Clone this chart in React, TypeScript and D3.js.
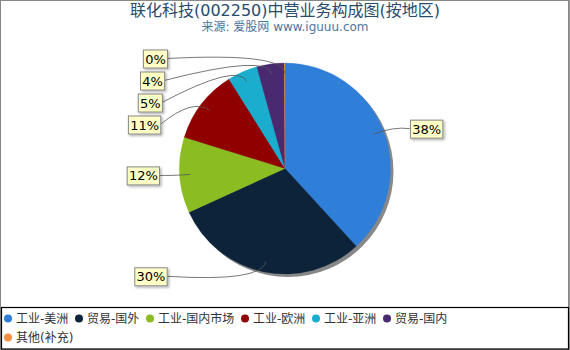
import React from "react";
import * as d3 from "d3";

const W = 570;
const H = 350;

const titleText = "联化科技(002250)中营业务构成图(按地区)";
const subtitleText = "来源: 爱股网 www.iguuu.com";

const categories = [
  "工业-美洲",
  "贸易-国外",
  "工业-国内市场",
  "工业-欧洲",
  "工业-亚洲",
  "贸易-国内",
  "其他(补充)",
];
const values = [38.2, 30.0, 11.6, 11.3, 4.6, 4.2, 0.1];
const colors = ["#2f7ed8", "#0d233a", "#8bbc21", "#910000", "#1aadce", "#492970", "#f28f43"];

const CJK = '"DejaVu Sans", "Noto Sans CJK SC", sans-serif';

type Item = { name: string; value: number; color: string };
const data: Item[] = categories.map((c, i) => ({ name: c, value: values[i], color: colors[i] }));

function textWidth(t: string, size: number) {
  let w = 0;
  for (const ch of t) {
    const code = ch.charCodeAt(0);
    if (code > 0x2e80) w += size;
    else if (ch === "-") w += size * 0.5;
    else if (ch === "(" || ch === ")") w += size * 0.39;
    else if (ch === "%") w += size * 0.95;
    else if (/[0-9]/.test(ch)) w += size * 0.636;
    else w += size * 0.6;
  }
  return w;
}

export default function App() {
  const cx = 285;
  const cy = 168.5;
  const r = 105.5;
  const total = d3.sum(values);
  const pie = d3.pie<Item>().value((d) => d.value).sort(null).startAngle(0).endAngle(2 * Math.PI);
  const arcs = pie(data);
  const arcGen = d3.arc<d3.PieArcDatum<Item>>().innerRadius(0).outerRadius(r);

  const labelR = 110;
  const spacing = 22;
  const boxH = 18;
  type L = { a: d3.PieArcDatum<Item>; mid: number; side: number; ny: number; y: number; text: string };
  const labels: L[] = arcs.map((a) => {
    const mid = (a.startAngle + a.endAngle) / 2;
    const side = Math.sin(mid) >= 0 ? 1 : -1;
    const ny = -Math.cos(mid) * labelR;
    return { a, mid, side, ny, y: ny, text: Math.round((a.data.value / total) * 100) + "%" };
  });
  for (const s of [1, -1]) {
    const group = labels.filter((l) => l.side === s).sort((p, q) => p.ny - q.ny);
    let prev = -Infinity;
    for (const l of group) {
      l.y = Math.max(l.ny, prev + spacing);
      prev = l.y;
    }
  }
  const dxOf = (dy: number) => 126 - 8 * Math.pow(dy / 110, 2);

  // legend layout
  const legendFont = 12;
  const perRow = 6;
  const legendItems = data.map((d, i) => {
    const row = Math.floor(i / perRow);
    return { d, row, w: textWidth(d.name, legendFont) };
  });
  let lx = 8;
  let lastRow = 0;
  const legendPos = legendItems.map((it) => {
    if (it.row !== lastRow) {
      lx = 8;
      lastRow = it.row;
    }
    const p = { ...it, x: lx, y: 318.5 + it.row * 19 };
    lx += it.w + 17;
    return p;
  });

  return (
    <svg width={W} height={H} style={{ position: "absolute", left: 0, top: 0, background: "#fff" }}>
      <defs>
        <filter id="lblshadow" x="-20%" y="-20%" width="150%" height="160%">
          <feDropShadow dx="1.5" dy="1.5" stdDeviation="0.8" floodColor="#000" floodOpacity="0.3" />
        </filter>
      </defs>
      <rect x={0} y={0} width={W} height={H} fill="#fff" />
      <rect x={0.5} y={0.5} width={568} height={349} fill="none" stroke="#888" />
      <line x1={569.5} y1={0} x2={569.5} y2={H} stroke="#999" />

      <text x={W / 2} y={16} textAnchor="middle" fontFamily={CJK} fontSize={16} fill="#274b6d">
        {titleText}
      </text>
      <text x={W / 2} y={31} textAnchor="middle" fontFamily={CJK} fontSize={12} fill="#4d759e">
        {subtitleText}
      </text>

      <circle cx={cx + 3} cy={cy + 3} r={r} fill="#888" />
      <g transform={`translate(${cx},${cy})`}>
        {arcs.map((a, i) => (
          <path key={i} d={arcGen(a) || ""} fill={a.data.color} stroke={a.data.color} strokeWidth={0.3} />
        ))}
      </g>

      {labels.map((l, i) => {
        const sx = Math.sin(l.mid);
        const sy = -Math.cos(l.mid);
        const ax = cx + sx * r * 0.9;
        const ay = cy + sy * r * 0.9;
        const kx = cx + sx * r * 1.1;
        const ky = cy + sy * r * 1.1;
        const bw = textWidth(l.text, 13) + 3.5;
        const edgeX = cx + l.side * dxOf(l.y);
        const by = cy + l.y;
        const bx = l.side > 0 ? edgeX : edgeX - bw;
        return (
          <g key={"l" + i}>
            <path d={`M${ax},${ay}Q${kx},${ky} ${edgeX},${by}`} fill="none" stroke="#555" strokeWidth={0.8} />
            <rect x={bx + 0.5} y={by - boxH / 2 + 0.5} width={bw} height={boxH} fill="#ffffc6" stroke="#888" strokeWidth={1} filter="url(#lblshadow)" />
            <text x={bx + bw / 2 + 0.5} y={by + 5} textAnchor="middle" fontFamily={CJK} fontSize={13} fill="#000">
              {l.text}
            </text>
          </g>
        );
      })}

      <rect x={1.5} y={307.5} width={567} height={41.5} fill="#fff" stroke="#000" strokeWidth={1.2} />
      {legendPos.map((p, i) => (
        <g key={"lg" + i}>
          <circle cx={p.x} cy={p.y} r={4} fill={p.d.color} />
          <text x={p.x + 8} y={p.y + 4.5} fontFamily={CJK} fontSize={legendFont} fill="#333">
            {p.d.name}
          </text>
        </g>
      ))}
    </svg>
  );
}
